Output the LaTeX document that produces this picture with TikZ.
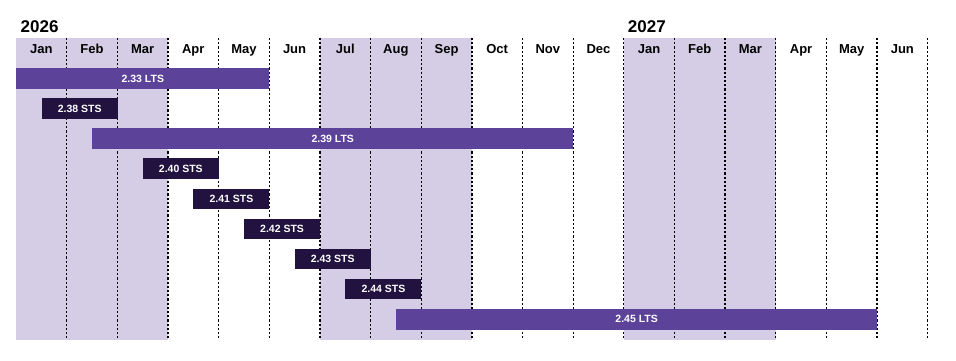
\documentclass[tikz,border=0pt]{standalone}
\usepackage{fontspec}
\setmainfont{Liberation Sans}
\definecolor{shadecol}{RGB}{212,205,229}
\definecolor{ltscol}{RGB}{92,67,153}
\definecolor{stscol}{RGB}{33,18,63}
\tikzset{
  shadebox/.style={fill=shadecol, draw=none},
  divider/.style={black, line width=1.3pt, dash pattern=on 2.2pt off 2pt},
  monthlbl/.style={font=\fontsize{13}{15}\selectfont\bfseries, text=black, anchor=base, inner sep=0},
  yearlbl/.style={font=\fontsize{17}{20}\selectfont\bfseries, text=black, anchor=base west, inner sep=0},
  barbase/.style={inner sep=0, minimum height=20.7pt, text=white, anchor=north west,
    font=\fontsize{10.5}{12}\selectfont\bfseries},
  ltsbar/.style={barbase, fill=ltscol},
  stsbar/.style={barbase, fill=stscol}
}
\newcommand\ganttbar[6]{%
  \node[#5, minimum width={(#3-#2)*50.65pt}] (#1) at ({16+#2*50.65}, {68+#4*30.08}) {#6};}
\begin{document}
\begin{tikzpicture}[x=1pt,y=-1pt]
\useasboundingbox (0,0) rectangle (956,361);
% shaded quarters
\fill[shadebox] (16,38) rectangle ({16+3*50.65},340);
\fill[shadebox] ({16+6*50.65},38) rectangle ({16+9*50.65},340);
\fill[shadebox] ({16+12*50.65},38) rectangle ({16+15*50.65},340);
% dividers
\foreach \i in {1,...,18}{
  \draw[divider] ({16+\i*50.65},38) -- ({16+\i*50.65},340);
}
% years
\node[yearlbl] (y2026) at (20.5,32.3) {2026};
\node[yearlbl] (y2027) at (627.7,32.3) {2027};
% months
\foreach \m [count=\i] in {Jan,Feb,Mar,Apr,May,Jun,Jul,Aug,Sep,Oct,Nov,Dec,Jan,Feb,Mar,Apr,May,Jun}{
  \node[monthlbl] (m\i) at ({16+(\i-0.5)*50.65},53.2) {\m};
}
% bars
\ganttbar{b233}{0}{5}{0}{ltsbar}{2.33 LTS}
\ganttbar{b238}{0.51}{2}{1}{stsbar}{2.38 STS}
\ganttbar{b239}{1.5}{11}{2}{ltsbar}{2.39 LTS}
\ganttbar{b240}{2.5}{4}{3}{stsbar}{2.40 STS}
\ganttbar{b241}{3.5}{5}{4}{stsbar}{2.41 STS}
\ganttbar{b242}{4.5}{6}{5}{stsbar}{2.42 STS}
\ganttbar{b243}{5.5}{7}{6}{stsbar}{2.43 STS}
\ganttbar{b244}{6.5}{8}{7}{stsbar}{2.44 STS}
\ganttbar{b245}{7.5}{17}{8}{ltsbar}{2.45 LTS}
\end{tikzpicture}
\end{document}
